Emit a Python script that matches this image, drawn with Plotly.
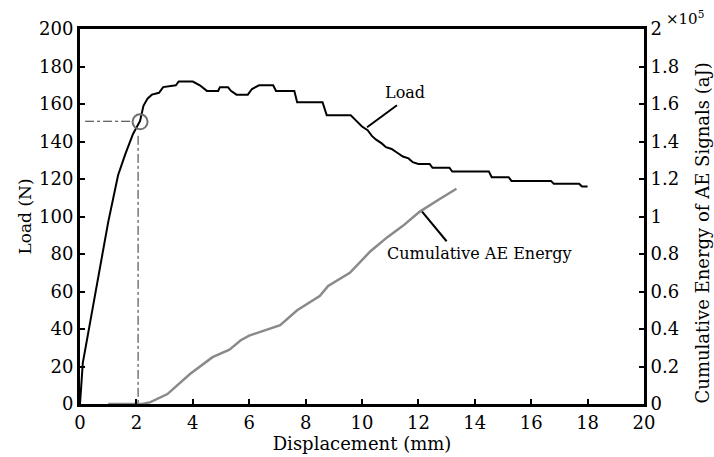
import plotly.graph_objects as go

# Load curve (N) vs displacement (mm)
load_x = [0, 0.1, 1.0, 1.35, 1.6, 1.88, 2.13, 2.25, 2.4, 2.55, 2.8, 2.95, 3.4, 3.5, 4.0, 4.25, 4.5,
          4.9, 4.96, 5.25, 5.35, 5.55, 5.95, 6.1, 6.35, 6.85, 6.95, 7.6, 7.7, 8.6, 8.75,
          9.6, 9.8, 10.0, 10.2, 10.35, 10.5, 10.7, 10.85, 11.05, 11.25, 11.45, 11.65, 11.8,
          12.0, 12.4, 12.5, 13.1, 13.2, 14.5, 14.6, 15.2, 15.3, 16.7, 16.8, 17.7, 17.8, 18.0]
load_y = [0, 22, 97, 122, 133, 144, 151, 159, 163, 165, 166, 169, 170, 172, 172, 170, 167,
          167, 169, 169, 167, 165, 165, 168, 170, 170, 167, 167, 161, 161, 154,
          154, 151, 148, 146, 143, 141, 139, 137, 136, 134, 132, 131, 129,
          128, 128, 126, 126, 124, 124, 121, 121, 119, 119, 117.5, 117.5, 116, 116]

# Cumulative AE energy (x10^5 aJ)
ae_x = [1.0, 2.2, 2.5, 3.1, 3.9, 4.7, 5.3, 5.7, 6.0, 7.1, 7.7, 8.5, 8.8, 9.57, 10.3,
        10.9, 11.45, 12.05, 12.77, 13.35]
ae_y = [0, 0, 0.01, 0.053, 0.16, 0.25, 0.29, 0.34, 0.365, 0.42, 0.50, 0.576, 0.63, 0.70,
        0.815, 0.89, 0.95, 1.026, 1.095, 1.148]

marker_x = [2.13]
marker_y = [150.5]

FONT = "DejaVu Serif"

fig = go.Figure()
fig.add_trace(go.Scatter(x=load_x, y=load_y, mode="lines",
                         line=dict(color="black", width=2), showlegend=False))
fig.add_trace(go.Scatter(x=ae_x, y=ae_y, mode="lines", yaxis="y2",
                         line=dict(color="#8a8a8a", width=2.5), showlegend=False))
fig.add_trace(go.Scatter(x=marker_x, y=marker_y, mode="markers",
                         marker=dict(symbol="circle-open", size=15, color="#707070",
                                     line=dict(width=2, color="#707070")),
                         showlegend=False))

# dash-dot guide lines
fig.add_shape(type="line", x0=0.18, y0=150.8, x1=1.87, y1=150.8, xref="x", yref="y",
              line=dict(color="#333", width=1, dash="dashdot"))
fig.add_shape(type="line", x0=2.06, y0=143, x1=2.06, y1=0, xref="x", yref="y",
              line=dict(color="#333", width=1, dash="dashdot"))

# pointer lines
fig.add_shape(type="line", x0=11.24, y0=159.3, x1=10.18, y1=147.6, xref="x", yref="y",
              line=dict(color="black", width=2))
fig.add_shape(type="line", x0=12.13, y0=102.6, x1=13.0, y1=86.8, xref="x", yref="y",
              line=dict(color="black", width=2))

fig.add_annotation(x=11.52, y=166, text="Load", showarrow=False, xref="x", yref="y",
                   font=dict(family=FONT, size=16, color="black"))
fig.add_annotation(x=14.18, y=80.4, text="Cumulative AE Energy", showarrow=False,
                   xref="x", yref="y", font=dict(family=FONT, size=16, color="black"))
fig.add_annotation(x=1.035, y=1.029, text="×10<sup>5</sup>", showarrow=False,
                   xref="paper", yref="paper", xanchor="left", yanchor="middle",
                   font=dict(family=FONT, size=15, color="black"))
fig.add_annotation(x=1.103, y=0.455, text="Cumulative Energy of AE Signals (aJ)",
                   showarrow=False, xref="paper", yref="paper", textangle=-90,
                   xanchor="center", yanchor="middle",
                   font=dict(family=FONT, size=18, color="black"))

axis_common = dict(showgrid=False, zeroline=False, showline=True, linecolor="black",
                   linewidth=3, ticks="inside", ticklen=5, tickwidth=2, tickcolor="black",
                   tickfont=dict(family=FONT, size=18, color="black"))

fig.update_layout(
    width=714, height=457,
    margin=dict(l=80, r=70, t=29, b=50),
    paper_bgcolor="white", plot_bgcolor="white",
    xaxis=dict(range=[0, 20], dtick=2, mirror=True,
               title=dict(text="Displacement (mm)", standoff=0,
                          font=dict(family=FONT, size=18, color="black")),
               **axis_common),
    yaxis=dict(range=[0, 200], dtick=20,
               title=dict(text="Load (N)", standoff=4,
                          font=dict(family=FONT, size=17, color="black")),
               **axis_common),
    yaxis2=dict(range=[0, 2], dtick=0.2, overlaying="y", side="right",
                **axis_common),
)

fig.write_html("out.html")
